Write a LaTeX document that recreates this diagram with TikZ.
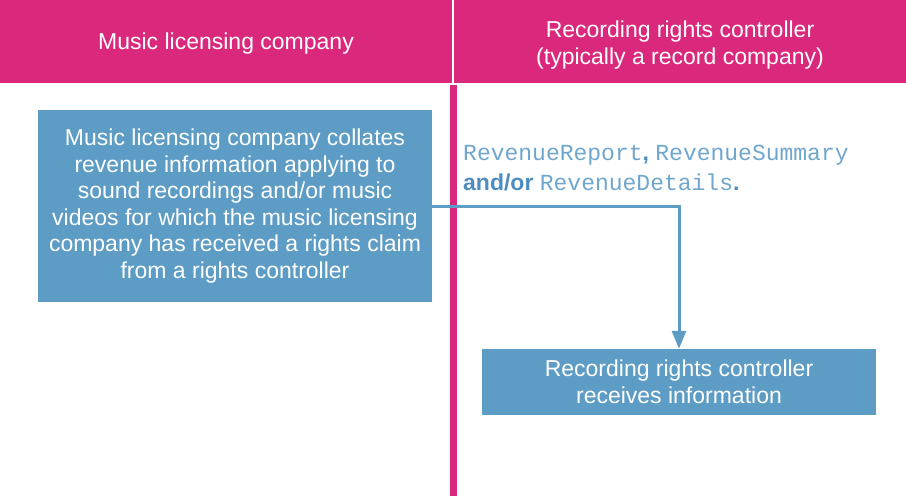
\documentclass[tikz,border=0pt]{standalone}
\usepackage{fontspec}
\setmainfont{Liberation Sans}
\setmonofont{Liberation Mono}
\usetikzlibrary{arrows.meta,positioning}
\definecolor{RoseBar}{HTML}{DA287C}
\definecolor{StepBlue}{HTML}{5D9CC5}
\definecolor{CodeBlue}{HTML}{6FA6CE}
\definecolor{BoldBlue}{HTML}{4D8DBF}

\begin{document}
\begin{tikzpicture}[x=1pt,y=-1pt,>={Triangle[width=14pt,length=18pt]},
  every node/.style={font=\fontsize{23}{26.5}\selectfont,align=center,text=white,inner sep=0pt},
  flowbox/.style={fill=StepBlue,minimum width=394pt}]
\useasboundingbox (0,0) rectangle (906,496);
% lane headers
\fill[RoseBar] (0,0) rectangle (452,83);
\fill[RoseBar] (454,0) rectangle (906,83);
\node (lefthdr) at (226,44) {Music licensing company};
\node (righthdr) at (680,45) {Recording rights controller\\(typically a record company)};
\coordinate (lanetop) at (453,85);
\coordinate (lanebot) at (453,496);
\draw[RoseBar,line width=7pt] (lanetop) -- (lanebot);
\node[flowbox,minimum height=192pt] (collate) at (235,206) {\vphantom{Ag}Music licensing company collates\\revenue information applying to\\sound recordings and/or music\\videos for which the music licensing\\company has received a rights claim\\from a rights controller};
\node[flowbox,minimum height=66pt] (receive) at (679,382) {Recording rights controller\\receives information};
\node[anchor=north west,align=left,text=CodeBlue,font=\fontsize{23}{30}\selectfont] (msgs) at (463,145)
  {\texttt{RevenueReport}\textbf{\color{BoldBlue},} \texttt{RevenueSummary}\\\textbf{\color{BoldBlue}and/or} \texttt{RevenueDetails}\textbf{\color{BoldBlue}.}};
\draw[->,StepBlue,line width=3pt] (collate.east) -| (receive.north);
\end{tikzpicture}
\end{document}
